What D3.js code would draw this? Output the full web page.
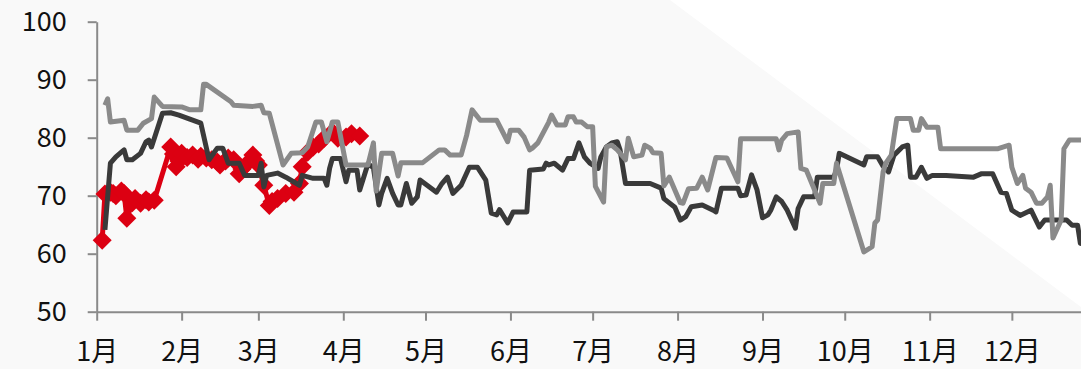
<!DOCTYPE html>
<html>
<head>
<meta charset="UTF-8">
<title>Chart</title>
<script src="https://d3js.org/d3.v7.min.js"></script>
<style>
  body { margin: 0; background: #f9f9f9; }
  svg { display: block; }
  .axis text { font-family: 'Noto Sans CJK SC', 'Noto Sans', sans-serif; font-size: 27px; fill: #111; }
  .axis path, .axis line { stroke: #8a8a8a; stroke-width: 2; }
</style>
</head>
<body>
<svg id="chart" width="1081" height="369"></svg>
<script type="text/javascript">
    var year = 2019;
    var monthLabels = ['1月', '2月', '3月', '4月', '5月', '6月', '7月', '8月', '9月', '10月', '11月', '12月'];
    var yTicks = [50, 60, 70, 80, 90, 100];

    // light grey series: day of year, value
    var greyDays = [3, 4, 5, 10, 11, 15, 17, 20, 21, 24, 31, 34, 38, 39, 40, 49, 50, 57, 60, 61, 63, 68, 71, 75, 77, 80, 82, 84, 86, 88, 91, 99,
        101, 102, 104, 108, 110, 111, 119, 125, 127, 129, 133, 135, 137, 138, 140, 146, 150, 151, 154, 156, 158, 159, 161, 165, 166, 168,
        171, 172, 174, 175, 177, 179, 181, 182, 185, 186, 188, 190, 193, 194, 196, 199, 200, 202, 203, 206, 207, 209, 213, 214, 216, 219,
        221, 223, 226, 230, 234, 235, 248, 249, 250, 252, 256, 257, 259, 264, 265, 269, 270, 280, 283, 284, 285, 287, 288, 290, 292, 297,
        298, 300, 301, 303, 307, 308, 329, 333, 334, 336, 338, 339, 341, 343, 345, 347, 348, 349, 352, 353, 355, 364];
    var greyValues = [85.6, 86.7, 82.7, 83.0, 81.3, 81.3, 82.5, 83.3, 87.0, 85.4, 85.3, 84.8, 84.8, 89.2, 89.2, 86.2, 85.6, 85.4, 85.6, 84.3, 84.2, 75.3, 77.3, 77.4, 78.4, 82.7, 82.7, 79.3, 82.7, 82.7, 75.3, 75.3,
        79.1, 70.8, 77.3, 77.3, 73.4, 75.7, 75.7, 77.9, 77.9, 77.0, 77.0, 80.4, 84.8, 84.2, 83.0, 83.0, 79.3, 81.3, 81.3, 80.1, 77.9, 78.2, 79.1, 82.7, 83.9, 82.2,
        82.2, 83.6, 83.6, 82.7, 82.7, 81.9, 81.9, 71.6, 68.9, 78.4, 78.7, 77.9, 76.2, 79.9, 76.7, 77.0, 78.7, 78.2, 77.4, 77.3, 71.7, 73.2, 68.8, 68.7, 71.2, 71.3,
        73.2, 71.0, 76.6, 76.5, 72.4, 79.8, 79.8, 77.9, 79.6, 80.7, 81.0, 74.7, 74.4, 68.7, 72.1, 72.1, 75.6, 60.3, 61.2, 65.3, 65.8, 74.1, 75.6, 77.0, 83.3, 83.3,
        81.3, 81.3, 83.3, 81.8, 81.8, 78.1, 78.1, 78.7, 74.9, 72.1, 73.5, 71.3, 70.6, 68.7, 68.7, 69.8, 71.8, 62.7, 65.8, 78.1, 79.6, 79.6];

    // dark grey series
    var darkDays = [3, 5, 7, 9, 10, 11, 13, 16, 18, 19, 20, 24, 27, 30, 38, 41, 44, 46, 48, 52, 54, 59, 60, 61, 62, 66, 69, 74, 75, 79, 83, 84,
        85, 86, 89, 91, 92, 95, 96, 99, 101, 103, 104, 106, 108, 110, 111, 113, 115, 117, 118, 124, 126, 128, 130, 133, 136, 139, 142, 144,
        146, 147, 150, 152, 157, 158, 163, 164, 165, 167, 170, 172, 174, 176, 178, 180, 183, 184, 186, 188, 190, 191, 193, 202, 206, 207,
        211, 213, 215, 217, 221, 225, 226, 228, 234, 235, 237, 239, 241, 243, 245, 246, 248, 250, 252, 255, 256, 258, 262, 263, 269, 270,
        271, 280, 281, 285, 287, 289, 291, 294, 296, 297, 299, 301, 303, 305, 310, 320, 323, 327, 330, 332, 334, 337, 341, 344, 346, 354,
        356, 358, 359, 362];
    var darkValues = [64.1, 75.6, 76.7, 77.5, 77.9, 76.2, 76.2, 77.3, 79.3, 79.6, 78.4, 84.2, 84.3, 83.9, 82.5, 76.2, 78.2, 78.2, 75.6, 75.6, 73.5, 73.5, 75.6, 71.5, 73.5, 73.9, 73.2, 71.8, 73.5, 73.0, 73.0, 71.8,
        74.7, 76.4, 76.4, 72.4, 74.4, 74.4, 71.0, 75.5, 74.8, 68.4, 70.4, 73.0, 70.4, 68.4, 68.4, 72.1, 68.7, 69.8, 72.7, 70.6, 72.1, 73.2, 70.4, 71.8, 74.9, 74.9, 72.7, 67.0,
        66.7, 67.6, 65.3, 67.2, 67.2, 74.4, 74.6, 75.6, 75.3, 75.6, 74.4, 76.4, 76.4, 79.1, 76.7, 75.6, 74.7, 76.7, 78.4, 79.1, 79.3, 77.9, 72.1, 72.1, 71.3, 69.5,
        68.0, 65.8, 66.4, 68.1, 68.4, 67.5, 67.2, 71.3, 71.3, 70.0, 70.1, 73.6, 71.0, 66.2, 66.7, 67.5, 69.8, 69.0, 67.5, 64.4, 67.8, 69.8, 69.8, 73.2, 73.2, 74.4,
        77.3, 75.3, 76.7, 76.7, 75.1, 74.1, 77.0, 78.4, 78.7, 73.2, 73.2, 74.9, 73.0, 73.5, 73.5, 73.2, 73.8, 73.8, 70.6, 70.4, 67.5, 66.6, 67.5, 64.6, 65.8, 65.8,
        64.9, 64.9, 61.8, 61.5];

    // red series (current year)
    var redDays = [2, 3, 5, 6, 7, 9, 10, 11, 13, 14, 16, 18, 19, 21, 27, 28, 29, 30, 31, 33, 35, 37, 38, 40, 42, 44, 45, 47, 48, 50, 52, 53, 55, 57,
        58, 59, 61, 63, 64, 66, 69, 72, 74, 75, 77, 79, 81, 83, 86, 88, 91, 93, 96];
    var redValues = [62.3, 70.3, 70.6, 70.4, 70.0, 70.8, 70.4, 66.1, 68.8, 69.5, 68.7, 69.3, 68.9, 69.2, 78.4, 77.2, 75.0, 76.0, 77.3, 76.6, 77.0, 76.3, 76.8, 76.5, 76.2, 75.8, 75.3, 76.0, 76.5, 76.2, 73.8, 74.6, 75.6, 77.0,
        76.0, 75.3, 71.8, 68.3, 69.0, 69.5, 70.4, 70.6, 72.1, 75.0, 77.5, 78.4, 78.9, 79.9, 81.0, 79.9, 80.1, 80.7, 80.3];

    var start = new Date(year, 0, 1);
    function toDate(d) { return d3.timeDay.offset(start, d); }

    var svg = d3.select('#chart');

    // background: light grey with a white wedge at the top right
    svg.append('rect').attr('width', 1081).attr('height', 369).attr('fill', '#f9f9f9');
    svg.append('polygon').attr('points', '670,0 1081,0 1081,307').attr('fill', '#ffffff');

    var x = d3.scaleTime()
              .domain([start, new Date(year + 1, 0, 1)])
              .range([96.7, 1096.8]);
    var y = d3.scaleLinear()
              .domain([50, 100])
              .range([311.7, 21.7]);

    // axes
    svg.append('g')
       .attr('class', 'axis')
       .attr('transform', 'translate(96.7,0)')
       .call(d3.axisLeft(y).tickValues(yTicks).tickSize(9).tickSizeOuter(0).tickPadding(21));

    var monthDates = monthLabels.map(function(d, i) { return new Date(year, i, 1); });
    svg.append('g')
       .attr('class', 'axis')
       .attr('transform', 'translate(0,311.7)')
       .call(d3.axisBottom(x).tickValues(monthDates)
               .tickFormat(function(d, i) { return monthLabels[i]; })
               .tickSize(9).tickSizeOuter(0).tickPadding(21));

    var line = d3.line()
                 .x(function(d) { return x(toDate(d[0])); })
                 .y(function(d) { return y(d[1]); });

    function pairs(days, values) {
        return days.map(function(d, i) { return [d, values[i]]; });
    }

    var redData = pairs(redDays, redValues);

    // red line + diamonds
    svg.append('path')
       .datum(redData)
       .attr('d', line)
       .attr('fill', 'none')
       .attr('stroke', '#dc0012')
       .attr('stroke-width', 5)
       .attr('stroke-linejoin', 'round');

    svg.selectAll('.marker')
       .data(redData)
       .enter()
       .append('path')
         .attr('class', 'marker')
         .attr('d', 'M0,-9.5L9.5,0L0,9.5L-9.5,0Z')
         .attr('fill', '#dc0012')
         .attr('transform', function(d) { return 'translate(' + x(toDate(d[0])) + ',' + y(d[1]) + ')'; });

    // dark grey line
    svg.append('path')
       .datum(pairs(darkDays, darkValues))
       .attr('d', line)
       .attr('fill', 'none')
       .attr('stroke', '#3a3a3a')
       .attr('stroke-width', 5)
       .attr('stroke-linejoin', 'round');

    // light grey line
    svg.append('path')
       .datum(pairs(greyDays, greyValues))
       .attr('d', line)
       .attr('fill', 'none')
       .attr('stroke', '#8a8a8a')
       .attr('stroke-width', 5)
       .attr('stroke-linejoin', 'round');
</script>
</body>
</html>
